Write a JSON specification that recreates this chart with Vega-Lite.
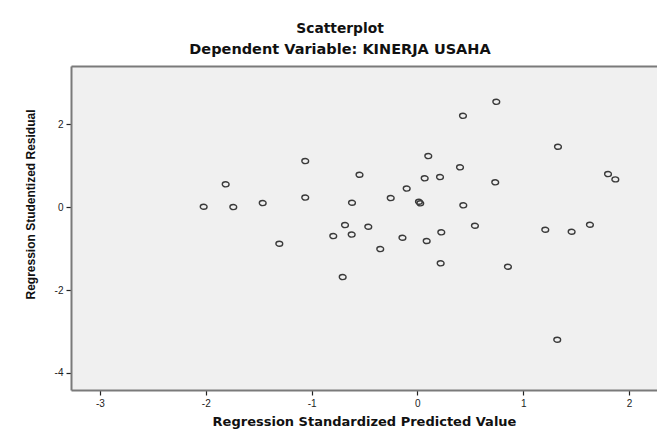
{
  "$schema": "https://vega.github.io/schema/vega-lite/v6.json",
  "autosize": "none",
  "padding": {"left": 71, "top": 66, "right": 0, "bottom": 49},
  "width": 586,
  "height": 324,
  "background": "white",
  "title": {
    "text": "Scatterplot",
    "subtitle": "Dependent Variable: KINERJA USAHA",
    "font": "DejaVu Sans",
    "fontSize": 13.8,
    "fontWeight": "bold",
    "color": "#111111",
    "subtitleFont": "DejaVu Sans",
    "subtitleFontSize": 14.5,
    "subtitleFontWeight": "bold",
    "subtitleColor": "#111111",
    "subtitlePadding": 7,
    "anchor": "middle",
    "dx": -24,
    "offset": 10
  },
  "data": {
    "values": [
      {"pred": -2.020, "resid": 0.007},
      {"pred": -1.812, "resid": 0.547},
      {"pred": -1.740, "resid": 0.000},
      {"pred": -1.462, "resid": 0.096},
      {"pred": -1.305, "resid": -0.884},
      {"pred": -1.060, "resid": 1.108},
      {"pred": -1.060, "resid": 0.229},
      {"pred": -0.795, "resid": -0.699},
      {"pred": -0.706, "resid": -1.687},
      {"pred": -0.684, "resid": -0.434},
      {"pred": -0.621, "resid": -0.663},
      {"pred": -0.618, "resid": 0.104},
      {"pred": -0.547, "resid": 0.778},
      {"pred": -0.464, "resid": -0.475},
      {"pred": -0.351, "resid": -1.012},
      {"pred": -0.252, "resid": 0.217},
      {"pred": -0.141, "resid": -0.740},
      {"pred": -0.101, "resid": 0.446},
      {"pred": 0.015, "resid": 0.128},
      {"pred": 0.027, "resid": 0.089},
      {"pred": 0.069, "resid": 0.692},
      {"pred": 0.088, "resid": -0.819},
      {"pred": 0.103, "resid": 1.229},
      {"pred": 0.214, "resid": 0.723},
      {"pred": 0.220, "resid": -1.357},
      {"pred": 0.226, "resid": -0.610},
      {"pred": 0.403, "resid": 0.957},
      {"pred": 0.431, "resid": 2.200},
      {"pred": 0.434, "resid": 0.041},
      {"pred": 0.544, "resid": -0.451},
      {"pred": 0.736, "resid": 0.595},
      {"pred": 0.746, "resid": 2.537},
      {"pred": 0.856, "resid": -1.439},
      {"pred": 1.209, "resid": -0.547},
      {"pred": 1.322, "resid": -3.198},
      {"pred": 1.329, "resid": 1.453},
      {"pred": 1.458, "resid": -0.595},
      {"pred": 1.631, "resid": -0.427},
      {"pred": 1.802, "resid": 0.795},
      {"pred": 1.871, "resid": 0.667}
    ]
  },
  "layer": [
    {
      "mark": {
        "type": "point",
        "shape": "M-1,0A1,0.75 0 1,0 1,0A1,0.75 0 1,0 -1,0Z",
        "size": 46,
        "filled": false,
        "stroke": "#3a3a3a",
        "strokeWidth": 1.4,
        "opacity": 1
      },
      "encoding": {
        "x": {
          "field": "pred",
          "type": "quantitative",
          "scale": {"domain": [-3.274, 2.265], "nice": false, "zero": false},
          "axis": {
            "title": "Regression Standardized Predicted Value",
            "titleFont": "DejaVu Sans",
            "titleFontSize": 13,
            "values": [-3, -2, -1, 0, 1, 2],
            "labelExpr": "datum.value < 0 ? '-' + abs(datum.value) : '' + datum.value",
            "grid": false,
            "orient": "bottom"
          }
        },
        "y": {
          "field": "resid",
          "type": "quantitative",
          "scale": {"domain": [-4.41, 3.40], "nice": false, "zero": false},
          "axis": {
            "title": "Regression Studentized Residual",
            "titleFontSize": 12,
            "values": [-4, -2, 0, 2],
            "labelExpr": "datum.value < 0 ? '-' + abs(datum.value) : '' + datum.value",
            "grid": false,
            "titleX": -34,
            "titleY": 138
          }
        }
      }
    },
    {
      "mark": {"type": "point", "opacity": 0},
      "encoding": {
        "x": {
          "field": "pred",
          "type": "quantitative",
          "scale": {"domain": [-3.274, 2.265], "nice": false, "zero": false},
          "axis": {"orient": "top", "title": null, "labels": false, "ticks": false, "grid": false}
        },
        "y": {
          "field": "resid",
          "type": "quantitative",
          "scale": {"domain": [-4.41, 3.40], "nice": false, "zero": false}
        }
      }
    }
  ],
  "resolve": {"axis": {"x": "independent"}},
  "config": {
    "view": {"stroke": null, "fill": "#f0f0f0"},
    "axis": {
      "domainColor": "#7a7a7a",
      "domainWidth": 2,
      "tickColor": "#222222",
      "tickSize": 5,
      "tickWidth": 1.2,
      "labelFont": "Liberation Sans",
      "labelFontSize": 10,
      "labelColor": "#222222",
      "labelPadding": 3,
      "titleFont": "Liberation Sans",
      "titleFontSize": 13,
      "titleFontWeight": "bold",
      "titleColor": "#111111"
    },
    "axisX": {"titlePadding": 7}
  }
}
